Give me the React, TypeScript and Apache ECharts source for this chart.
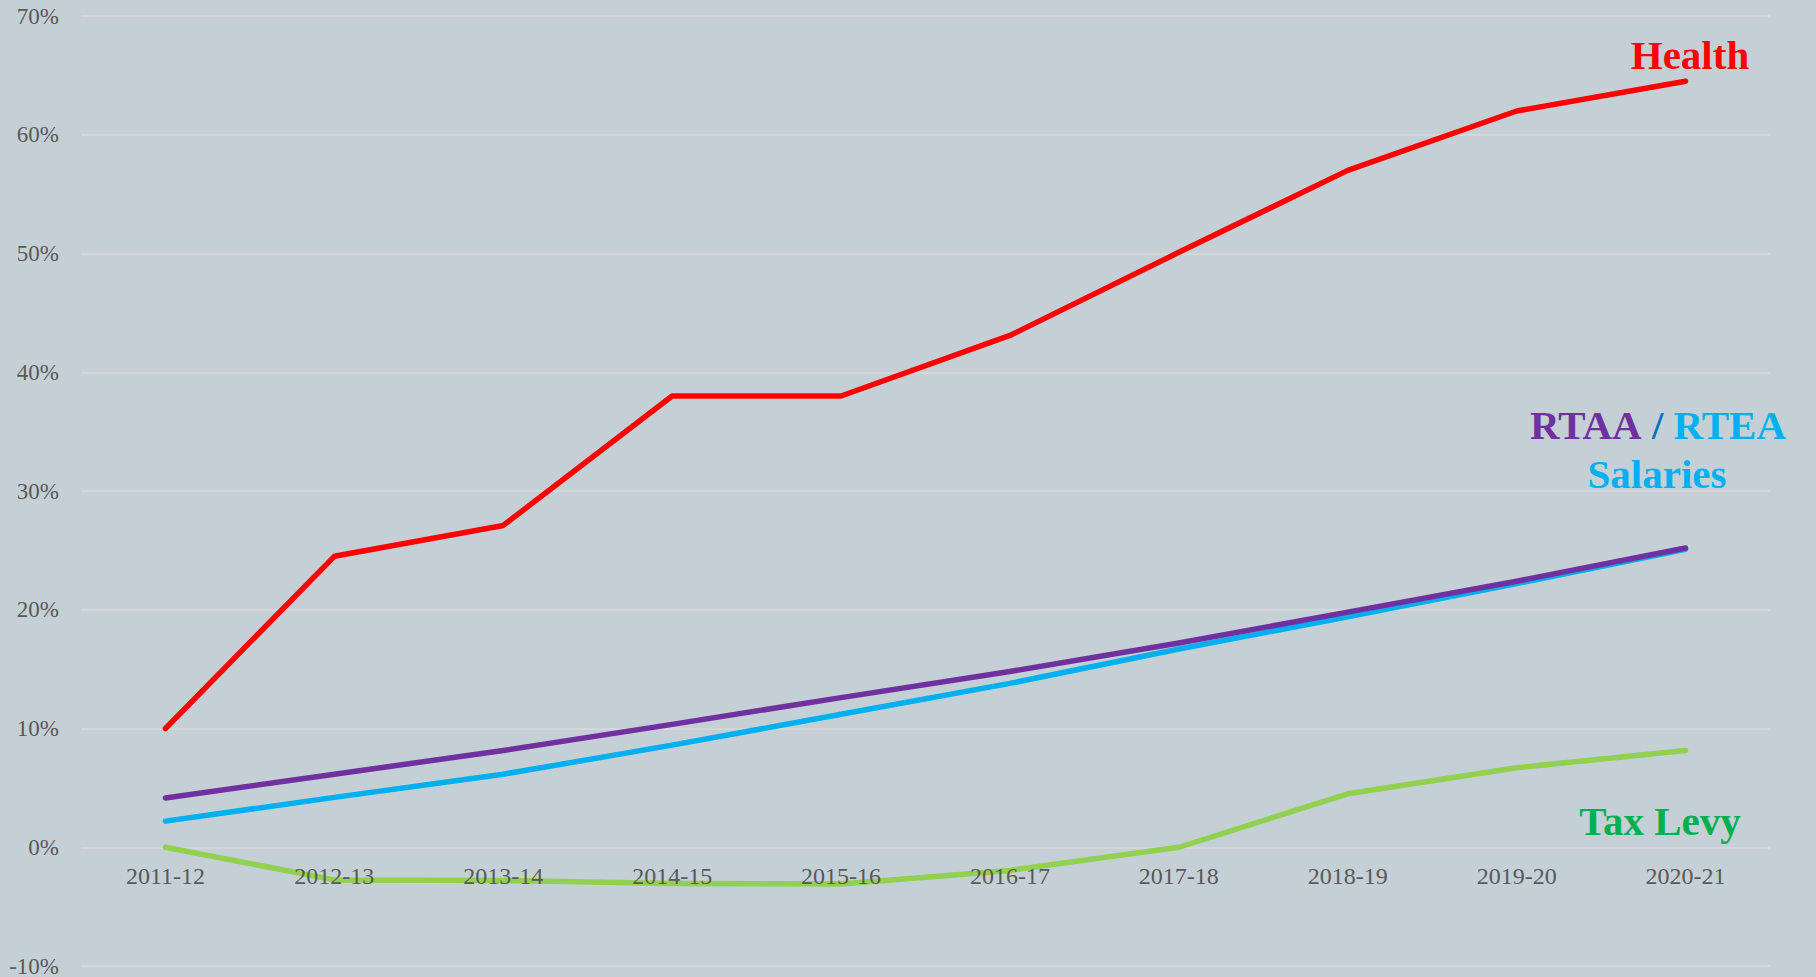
import React, { useEffect, useRef } from "react";
import * as echarts from "echarts";

const categories = ["2011-12", "2012-13", "2013-14", "2014-15", "2015-16", "2016-17", "2017-18", "2018-19", "2019-20", "2020-21"];
const health = [10.0, 24.5, 27.1, 38.0, 38.0, 43.1, 50.1, 57.0, 62.0, 64.5];
const rtaa = [4.15, 6.15, 8.15, 10.35, 12.6, 14.8, 17.2, 19.8, 22.4, 25.2];
const rtea = [2.2, 4.2, 6.15, 8.6, 11.2, 13.8, 16.7, 19.4, 22.2, 25.1];
const taxLevy = [0, -2.75, -2.8, -3.05, -3.1, -1.95, 0, 4.5, 6.7, 8.15];
const yTicks = { min: -10, max: 70, interval: 10 };

const FONT = "'Liberation Serif', 'Times New Roman', serif";
const GRID_TOP = 16;
const GRID_BOTTOM = 11;
const CHART_H = 977;

export default function App() {
  const ref = useRef<HTMLDivElement>(null);
  useEffect(() => {
    document.body.style.margin = "0";
    const chart = echarts.init(ref.current!, null, { renderer: "svg" });
    const plotH = CHART_H - GRID_TOP - GRID_BOTTOM;
    const zeroOffset = -plotH * (0 - yTicks.min) / (yTicks.max - yTicks.min);
    const line = (name: string, data: number[], color: string, z: number) => ({
      name,
      type: "line",
      data,
      symbol: "none",
      z,
      lineStyle: { color, width: 5.5, cap: "round", join: "round" },
    });
    chart.setOption({
      animation: false,
      backgroundColor: "#C5D0D6",
      grid: { left: 81, right: 46, top: GRID_TOP, bottom: GRID_BOTTOM, containLabel: false, outerBoundsMode: "none" },
      xAxis: {
        type: "category",
        data: categories,
        boundaryGap: true,
        position: "bottom",
        offset: zeroOffset,
        z: 5,
        axisLine: { show: false, onZero: false },
        axisTick: { show: false },
        axisLabel: { color: "#595959", fontFamily: FONT, fontSize: 24, margin: 17 },
        splitLine: { show: false },
      },
      yAxis: {
        type: "value",
        min: yTicks.min,
        max: yTicks.max,
        interval: yTicks.interval,
        axisLine: { show: false },
        axisTick: { show: false },
        axisLabel: { color: "#595959", fontFamily: FONT, fontSize: 23, margin: 22, formatter: "{value}%" },
        splitLine: { lineStyle: { color: "#D9D9D9", width: 1.5 } },
      },
      series: [
        line("Health", health, "#FF0000", 2),
        line("RTEA Salaries", rtea, "#00B0F0", 2),
        line("RTAA Salaries", rtaa, "#7030A0", 3),
        line("Tax Levy", taxLevy, "#92D050", 2),
      ],
      graphic: [
        {
          type: "text",
          x: 1690,
          y: 55,
          style: { text: "Health", fill: "#FF0000", font: `bold 41px ${FONT}`, align: "center", verticalAlign: "middle" },
        },
        {
          type: "text",
          x: 1658,
          y: 425,
          style: {
            text: "{a|RTAA} {b|/} {c|RTEA}",
            align: "center",
            verticalAlign: "middle",
            font: `bold 41px ${FONT}`,
            rich: {
              a: { fill: "#7030A0", font: `bold 41px ${FONT}` },
              b: { fill: "#0070C0", font: `bold 41px ${FONT}` },
              c: { fill: "#00B0F0", font: `bold 41px ${FONT}` },
            },
          },
        },
        {
          type: "text",
          x: 1657,
          y: 474,
          style: { text: "Salaries", fill: "#00B0F0", font: `bold 41px ${FONT}`, align: "center", verticalAlign: "middle" },
        },
        {
          type: "text",
          x: 1660,
          y: 821,
          style: { text: "Tax Levy", fill: "#00B050", font: `bold 41px ${FONT}`, align: "center", verticalAlign: "middle" },
        },
      ],
    });
    return () => chart.dispose();
  }, []);
  return <div ref={ref} style={{ width: 1816, height: 977 }} />;
}
